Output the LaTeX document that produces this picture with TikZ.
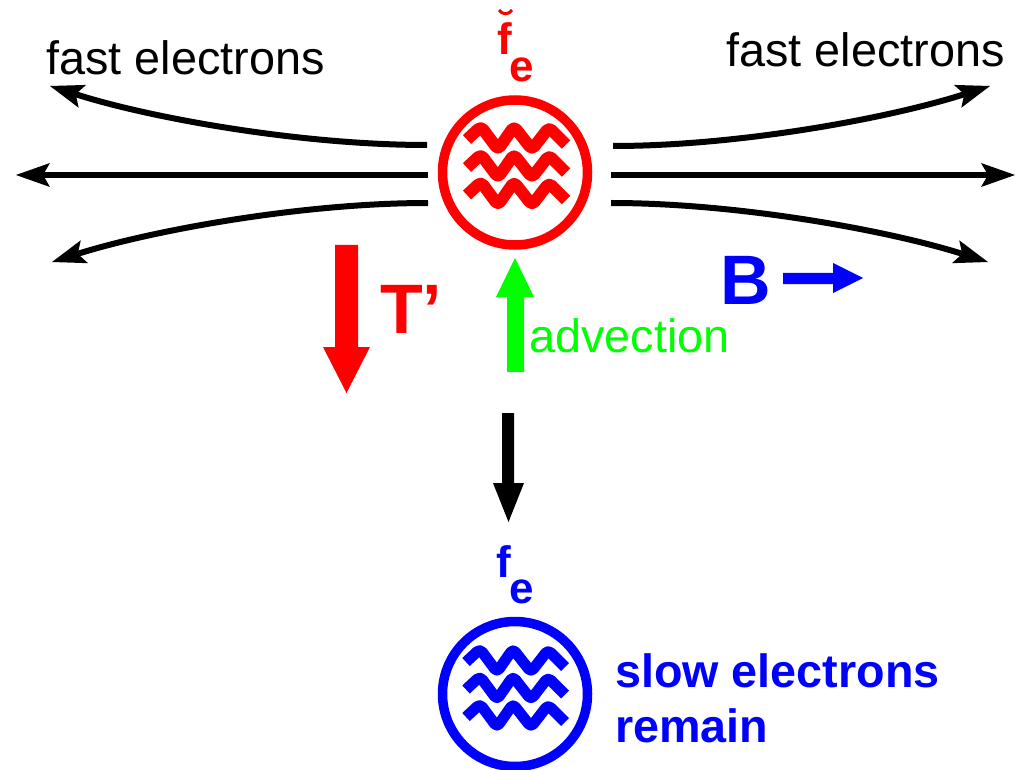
\documentclass[tikz,border=0pt]{standalone}
\usepackage{fontspec}
\setmainfont{Liberation Sans}
\usetikzlibrary{arrows.meta}
\definecolor{hotred}{RGB}{255,0,0}
\definecolor{advgreen}{RGB}{0,255,0}
\definecolor{slowblue}{RGB}{0,0,255}
\begin{document}
\begin{tikzpicture}[x=1pt,y=-1pt,
  fastarrow/.style={line width=6pt,-{Stealth[length=34pt,width=24pt,inset=7pt,line width=0pt]}},
  lbl/.style={inner sep=0pt,anchor=base west},
  regtext/.style={lbl,font=\fontsize{46.8}{55}\selectfont},
  boldtext/.style={lbl,font=\fontsize{46.7}{55}\selectfont\bfseries},
  symtext/.style={lbl,font=\fontsize{44}{50}\selectfont\bfseries},
  bigtext/.style={lbl,font=\fontsize{70}{80}\selectfont\bfseries},
  ring/.style={circle,line width=9.5pt,minimum size=145pt,inner sep=0pt},
  wave/.style={line width=12pt,line cap=butt,line join=round,rounded corners=4pt}
]
\useasboundingbox (0,0) rectangle (1015,770);

% distributions
\node[ring,draw=hotred] (hot) at (515,172.5) {};
\node[ring,draw=slowblue] (cold) at (515,694) {};
\foreach \c in {138.5,166.5,194}{
  \draw[wave,hotred] (467,\c+1) -- (481,\c-12) -- (498,\c+11) -- (514,\c-12)
    -- (532,\c+11) -- (549,\c-11) -- (566,\c+6);
}
\foreach \c in {661,688.5,716}{
  \draw[wave,slowblue,line width=11pt] (466,\c+1) -- (480,\c-12) -- (497,\c+11) -- (513,\c-12)
    -- (531,\c+11) -- (548,\c-11) -- (565,\c+6);
}

% labels of distributions
\node[symtext,text=hotred] (fhot) at (497,55) {f};
\node[symtext,text=hotred] (ehot) at (509,82) {e};
\draw[hotred,line width=3pt] (499,10) .. controls (502,15) and (509,15) .. (512,10);
\node[symtext,text=slowblue] (fcold) at (496,577) {f};
\node[symtext,text=slowblue] (ecold) at (509,603) {e};

% fast electrons
\node[regtext] (fastL) at (46,75) {fast electrons};
\node[regtext] (fastR) at (726,67) {fast electrons};

\coordinate (lt0) at (427,145); \coordinate (lt1) at (50,86);
\coordinate (lm0) at (428,175); \coordinate (lm1) at (16,175);
\coordinate (lb0) at (428,203); \coordinate (lb1) at (52,262);
\coordinate (rt0) at (613,146); \coordinate (rt1) at (990,86);
\coordinate (rm0) at (611,175); \coordinate (rm1) at (1015,175);
\coordinate (rb0) at (611,203); \coordinate (rb1) at (988,262);

\draw[fastarrow] (lt0) .. controls (300,145) and (150,118) .. (lt1);
\draw[fastarrow] (lm0) -- (lm1);
\draw[fastarrow] (lb0) .. controls (300,203) and (150,231) .. (lb1);
\draw[fastarrow] (rt0) .. controls (740,146) and (890,118) .. (rt1);
\draw[fastarrow] (rm0) -- (rm1);
\draw[fastarrow] (rb0) .. controls (740,203) and (890,231) .. (rb1);

% T' arrow
\fill[hotred] (335,245) -- (358,245) -- (358,347) -- (370,347) -- (346.5,393)
  -- (323,347) -- (335,347) -- cycle;
\node[bigtext,text=hotred] (tprime) at (380,333) {T’};

% advection arrow
\fill[advgreen] (507,372) -- (524,372) -- (524,297) -- (534,297) -- (515,258)
  -- (496,297) -- (507,297) -- cycle;
\node[regtext,text=advgreen] (adv) at (529,352) {advection};

% B arrow
\node[bigtext,text=slowblue] (bfield) at (720,305) {B};
\fill[slowblue] (783,273) -- (833,273) -- (833,263) -- (863,278) -- (833,293)
  -- (833,284) -- (783,284) -- cycle;

% black arrow to slow distribution
\fill[black] (502,413) -- (514,413) -- (514,483) -- (524,483) -- (508.5,522)
  -- (493,483) -- (502,483) -- cycle;

% slow electrons text
\node[boldtext,text=slowblue] (slow1) at (615,687) {slow electrons};
\node[boldtext,text=slowblue] (slow2) at (615,742) {remain};
\end{tikzpicture}
\end{document}
